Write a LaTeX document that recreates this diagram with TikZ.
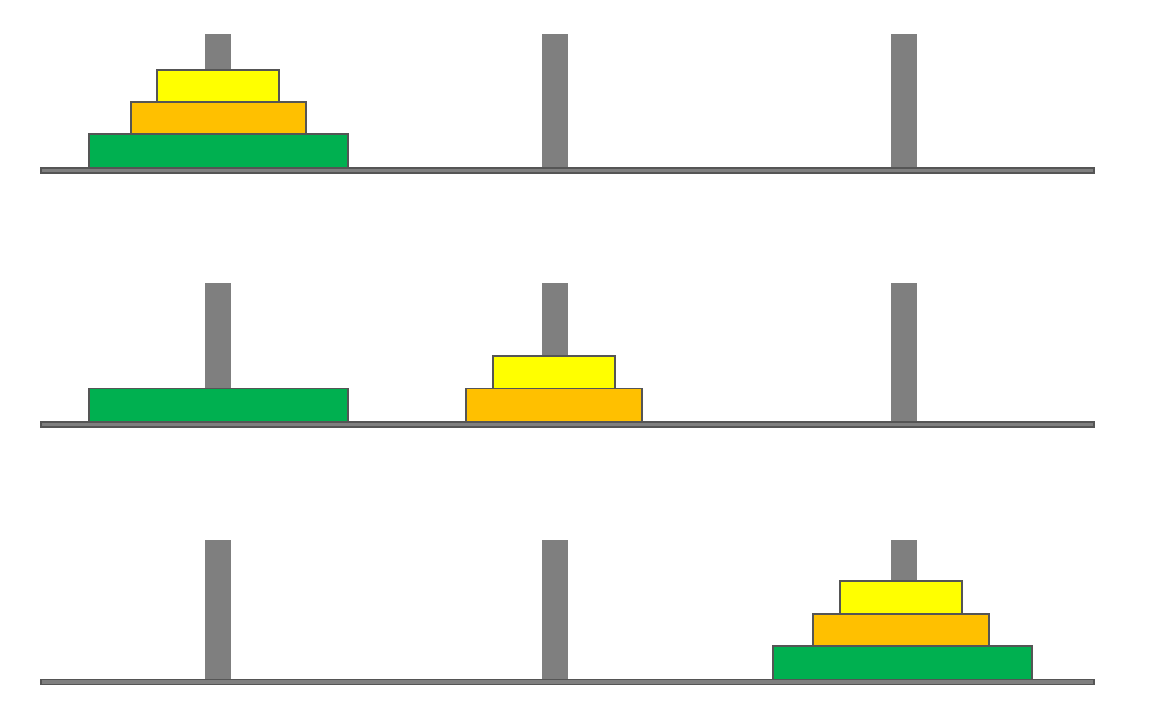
\documentclass[tikz,border=0pt]{standalone}
\usepackage{xcolor}
\usepackage{tikz}

\definecolor{peggray}{HTML}{7F7F7F}
\definecolor{edgegray}{HTML}{555555}
\definecolor{diskgreen}{HTML}{00B050}
\definecolor{diskorange}{HTML}{FFC000}
\definecolor{diskyellow}{HTML}{FFFF00}

\begin{document}
\begin{tikzpicture}[x=1pt, y=-1pt,
    peg/.style={fill=peggray},
    board/.style={fill=peggray, draw=edgegray, line width=1.2pt},
    disk/.style={draw=edgegray, line width=1.2pt}]
    			\useasboundingbox (0,0) rectangle (1162,716);
    			
    			% pegs and boards, one row per state
    			\foreach \top/\bottom in {
    				34/168,
    				283/422,
    				540/679.5}{
    				\foreach \x in {218, 555, 904}{
    					\fill[peg] (\x-13,\top) rectangle (\x+13,\bottom);
    				}
    				\draw[board] (41,\bottom) rectangle (1094,\bottom+5);
    			}
    			
    			% disks
    			\foreach \xa/\ya/\xb/\yb/\col in {
    				89/134/348/168/diskgreen,
    				131/102/306/134/diskorange,
    				157/70/279/102/diskyellow,
    				89/388.5/348/422/diskgreen,
    				466/388.5/642/422/diskorange,
    				493/356/615/388.5/diskyellow,
    				773/646/1032/679.5/diskgreen,
    				813/614/989/646/diskorange,
    				840/581/962/614/diskyellow}{
    				\draw[disk, fill=\col] (\xa,\ya) rectangle (\xb,\yb);
    			}
    		\end{tikzpicture}
\end{document}
